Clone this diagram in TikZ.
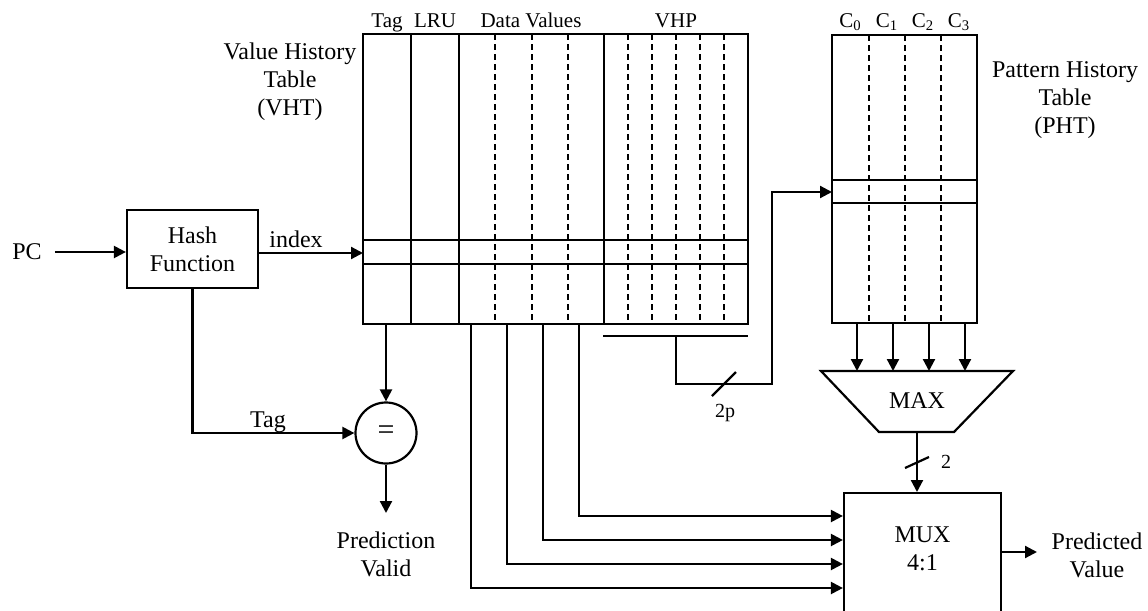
\documentclass[tikz,border=0pt]{standalone}
\usepackage{fontspec}
\setmainfont{Liberation Serif}
\usetikzlibrary{arrows.meta}
\begin{document}
\begin{tikzpicture}[x=0.5pt,y=-0.5pt, line width=1.1pt,
  arr/.style={-{Triangle[length=6pt,width=6pt]}},
  lbl/.style={font=\fontsize{12}{14}\selectfont, align=center, inner sep=0pt},
  hdr/.style={font=\fontsize{10.5}{12}\selectfont, inner sep=0pt, anchor=base},
  small/.style={font=\fontsize{10}{11}\selectfont, inner sep=0pt, anchor=base},
  dsh/.style={dash pattern=on 3pt off 2pt},
  blk/.style={draw, line width=1.1pt, inner sep=0pt}]
\clip (0,0) rectangle (1148,611);
% ---------- VHT ----------
\node[blk, minimum width=192.5pt, minimum height=145pt] (vht) at (555.5,179) {};
\foreach \x in {411,459,604} \draw (\x,34) -- (\x,324);
\foreach \x in {495,532,568,628,652,676,700,724} \draw[dsh] (\x,34) -- (\x,324);
\draw (363,240) -- (748,240);
\draw (363,264) -- (748,264);
\node[hdr] (hTag) at (387,27) {Tag};
\node[hdr] (hLRU) at (435,27) {LRU};
\node[hdr] (hDV) at (531,27) {Data Values};
\node[hdr] (hVHP) at (676,27) {VHP};
\node[lbl] (vhtlbl) at (290,82) {Value History\\Table\\(VHT)};
% ---------- PHT ----------
\node[blk, minimum width=72.25pt, minimum height=144pt] (pht) at (904.5,179) {};
\foreach \x in {869,905,941} \draw[dsh] (\x,35) -- (\x,323);
\draw (832,180) -- (977,180);
\draw (832,203) -- (977,203);
\node[hdr] (c0) at (850.5,27) {C\textsubscript{0}};
\node[hdr] (c1) at (887,27) {C\textsubscript{1}};
\node[hdr] (c2) at (923,27) {C\textsubscript{2}};
\node[hdr] (c3) at (959,27) {C\textsubscript{3}};
\node[lbl] (phtlbl) at (1065,100) {Pattern History\\Table\\(PHT)};
% ---------- left part ----------
\node[lbl] (pc) at (27,252) {PC};
\node[blk, lbl, minimum width=65.5pt, minimum height=39pt] (hash) at (192.5,249) {Hash\\Function};
\draw[arr] (pc.east) ++(12,0) -- (hash.west |- pc.east);
\coordinate (vin) at (363,253);
\draw[arr] (hash.east |- vin) -- (vin);
\node[lbl, anchor=base] (idx) at (296,247) {index};
\node[blk, circle, minimum size=30.5pt, font=\fontsize{15}{15}\selectfont] (eq) at (386,433) {=};
\coordinate (vbot) at (386,324);
\draw[arr] (vbot) -- (eq.north);
\draw[arr] (hash.south) |- (eq.west);
\node[lbl, anchor=base] (tag) at (268,427) {Tag};
\node[lbl] (pv) at (386,554) {Prediction\\Valid};
\draw[arr] (eq.south) -- (386,513);
% ---------- VHP to PHT ----------
\coordinate (vhpl) at (603,336);
\coordinate (vhpr) at (748,336);
\draw (vhpl) -- (vhpr);
\coordinate (pin) at (832,192);
\draw[arr] (676,336) -- (676,384) -- (772,384) -- (772,192) -- (pin);
\draw (712,396) -- (736,372);
\node[small] (twop) at (725,417) {2p};
% ---------- MAX ----------
\draw (821,371) -- (1013,371) -- (954,432) -- (879,432) -- cycle;
\node[lbl] (max) at (917,401) {MAX};
\foreach \x in {857,893,929,965} \draw[arr] (\x,323) -- (\x,371);
% ---------- MUX ----------
\node[blk, minimum width=78.5pt, minimum height=80pt, anchor=north] (mux) at (922.5,492) {};
\node[lbl] (muxlbl) at (922.5,549) {MUX\\4:1};
\draw[arr] (917,432) -- (mux.north -| 917,0);
\draw (905,468) -- (929,457);
\node[small] (two) at (946,468) {2};
\path (mux.north west) ++(0,24) coordinate (in1) ++(0,24) coordinate (in2) ++(0,24) coordinate (in3) ++(0,24) coordinate (in4);
\coordinate (d1) at (579,324);
\coordinate (d2) at (543,324);
\coordinate (d3) at (507,324);
\coordinate (d4) at (471,324);
\draw[arr] (d1) |- (in1);
\draw[arr] (d2) |- (in2);
\draw[arr] (d3) |- (in3);
\draw[arr] (d4) |- (in4);
\coordinate (out) at (1037,552);
\draw[arr] (mux.east |- out) -- (out);
\node[lbl] (pval) at (1097,555) {Predicted\\Value};
\end{tikzpicture}
\end{document}
